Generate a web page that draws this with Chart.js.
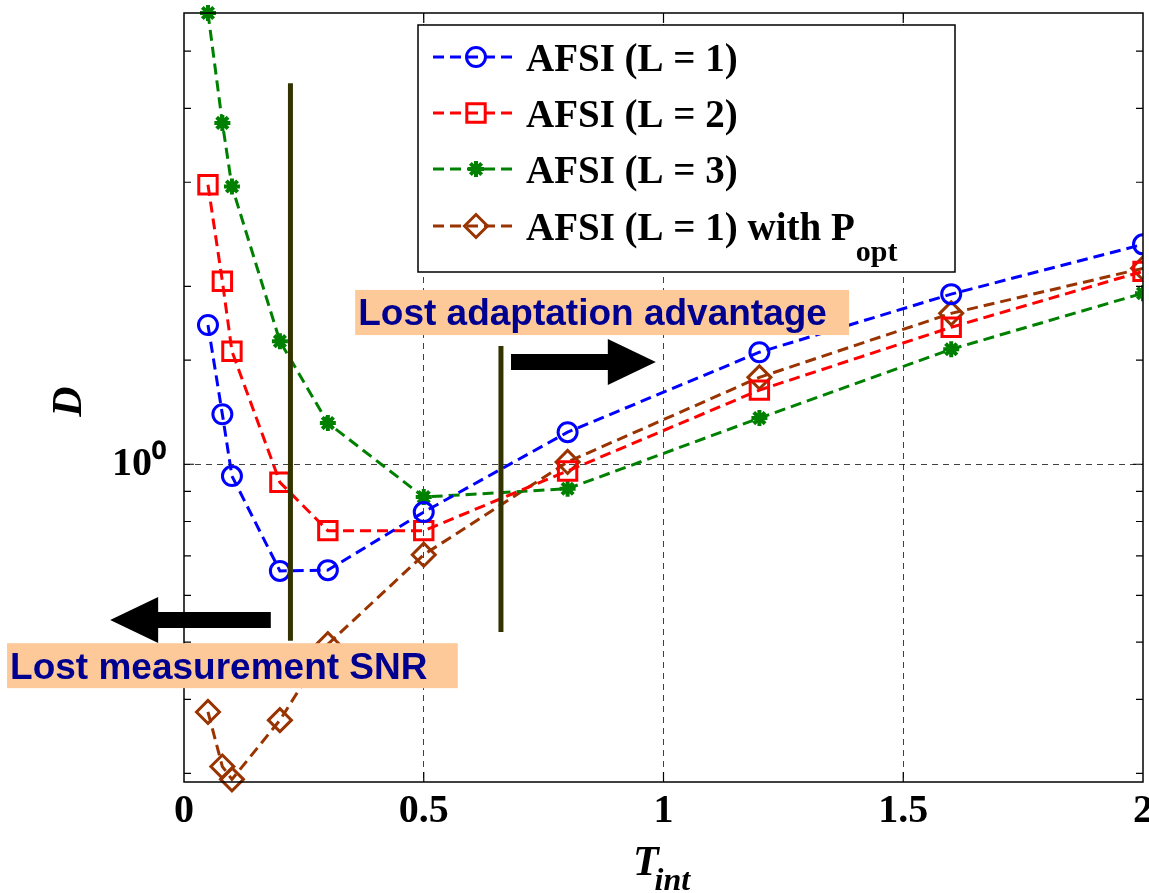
<!DOCTYPE html>
<html>
<head>
<meta charset="utf-8">
<script src="https://cdn.jsdelivr.net/npm/chart.js@4.4.1/dist/chart.umd.min.js"></script>
<style>
  html, body { margin: 0; padding: 0; background: #fff; }
  #wrap { width: 1149px; height: 893px; }
</style>
</head>
<body>
<div id="wrap"><canvas id="chart" width="1149" height="893"></canvas></div>
<script>
// integration time on the x axis
const tInt = [0.05, 0.08, 0.1, 0.2, 0.3, 0.5, 0.8, 1.2, 1.6, 2.0];

// D values
const dL1 = [1.72, 1.215, 0.955, 0.66, 0.662, 0.83, 1.133, 1.547, 1.94, 2.355];
const dL2 = [2.97, 2.04, 1.553, 0.932, 0.772, 0.772, 0.974, 1.335, 1.705, 2.12];
const dL3 = [5.8, 3.78, 2.95, 1.615, 1.174, 0.88, 0.909, 1.197, 1.565, 1.947];
const dL1Popt = [0.381, 0.308, 0.293, 0.369, 0.496, 0.703, 1.009, 1.403, 1.80, 2.145];

const seriesNames = ['AFSI (L = 1)', 'AFSI (L = 2)', 'AFSI (L = 3)', 'AFSI (L = 1) with P_opt'];
const xTicks = [0, 0.5, 1, 1.5, 2];

// vertical separators: x, y bottom, y top (data units)
const sepA = [0.222, 0.503, 4.41];
const sepB = [0.661, 0.52, 1.585];

const SERIF = '"Liberation Serif", "Times New Roman", serif';
const SANS = '"Liberation Sans", Arial, sans-serif';

function pts(ys) { return ys.map((y, i) => ({ x: tInt[i], y: y })); }

function series(label, ys, color, style, radius, bw) {
    return {
        label: label, data: pts(ys), borderColor: color, backgroundColor: 'transparent',
        borderWidth: 3, borderDash: [11, 6], pointStyle: style, pointRadius: radius,
        pointBorderWidth: bw, pointBorderColor: color, pointBackgroundColor: 'transparent',
        tension: 0, order: 1, clip: { left: 14, top: 14, right: 0, bottom: 14 }
    };
}

function separator(s) {
    return {
        label: '', data: [{ x: s[0], y: s[1] }, { x: s[0], y: s[2] }], borderColor: '#333300',
        borderWidth: 5, pointRadius: 0, order: 0, isSeparator: true, clip: false
    };
}

const styles = [
    ['#0000FF', 'circle', 9.5, 3],
    ['#FF0000', 'rect', 13, 3],
    ['#008000', 'star', 8, 4],
    ['#993300', 'rectRot', 11.5, 3]
];
const allD = [dL1, dL2, dL3, dL1Popt];

// annotations (data units)
const arrows = [
    { from: 0.682, to: 0.984, y: 1.489 },
    { from: 0.181, to: -0.154, y: 0.545 }
];
const notes = [
    { text: 'Lost adaptation advantage', x0: 0.357, x1: 1.387, yTop: 1.972, yBot: 1.654 },
    { text: 'Lost measurement SNR', x0: -0.369, x1: 0.571, yTop: 0.498, yBot: 0.418 }
];

// draws text with a "_sub" part lowered and smaller
function subText(ctx, str, x, y, font, subFont, drop, gap) {
    const parts = str.split('_');
    ctx.font = font;
    ctx.fillText(parts[0], x, y);
    let w = ctx.measureText(parts[0]).width;
    if (parts[1]) {
        ctx.font = subFont;
        ctx.fillText(parts[1], x + w + gap, y + drop);
        w += ctx.measureText(parts[1]).width + gap;
    }
    return w;
}

const decor = {
    id: 'decor',
    afterDatasetsDraw(chart) {
        const ctx = chart.ctx;
        const xs = chart.scales.x, ys = chart.scales.y;
        const { left, right, top, bottom } = chart.chartArea;
        ctx.save();
        ctx.setLineDash([]);

        // frame + inward ticks
        ctx.strokeStyle = '#000';
        ctx.lineWidth = 1.5;
        ctx.strokeRect(left, top, right - left, bottom - top);
        ctx.lineWidth = 1.2;
        ys.ticks.forEach(t => {
            if (t.value <= ys.min || t.value >= ys.max) return;
            const py = ys.getPixelForValue(t.value);
            const len = t.value === 1 ? 10 : 7;
            ctx.beginPath();
            ctx.moveTo(left, py); ctx.lineTo(left + len, py);
            ctx.moveTo(right, py); ctx.lineTo(right - len, py);
            ctx.stroke();
        });
        xs.ticks.forEach(t => {
            if (t.value <= xs.min || t.value >= xs.max) return;
            const px = xs.getPixelForValue(t.value);
            ctx.beginPath();
            ctx.moveTo(px, top); ctx.lineTo(px, top + 10);
            ctx.moveTo(px, bottom); ctx.lineTo(px, bottom - 10);
            ctx.stroke();
        });

        // arrows
        ctx.fillStyle = '#000';
        arrows.forEach(a => {
            const x0 = xs.getPixelForValue(a.from), x1 = xs.getPixelForValue(a.to);
            const py = ys.getPixelForValue(a.y);
            const dir = x1 > x0 ? 1 : -1;
            const hb = x1 - dir * 48;
            ctx.beginPath();
            ctx.moveTo(x0, py - 8); ctx.lineTo(hb, py - 8); ctx.lineTo(hb, py - 23);
            ctx.lineTo(x1, py); ctx.lineTo(hb, py + 23); ctx.lineTo(hb, py + 8);
            ctx.lineTo(x0, py + 8); ctx.closePath();
            ctx.fill();
        });

        // text boxes
        notes.forEach(n => {
            const x0 = xs.getPixelForValue(n.x0), x1 = xs.getPixelForValue(n.x1);
            const y0 = ys.getPixelForValue(n.yTop), y1 = ys.getPixelForValue(n.yBot);
            ctx.fillStyle = '#FDC998';
            ctx.fillRect(x0, y0, x1 - x0, y1 - y0);
            ctx.fillStyle = '#000090';
            ctx.font = 'bold 37px ' + SANS;
            ctx.textAlign = 'left';
            ctx.textBaseline = 'alphabetic';
            ctx.fillText(n.text, x0 + 3, (y0 + y1) / 2 + 13);
        });
        ctx.restore();
    },
    afterDraw(chart) {
        const ctx = chart.ctx;
        const { left, right, top, bottom } = chart.chartArea;
        ctx.save();
        ctx.fillStyle = '#000';
        ctx.textBaseline = 'alphabetic';

        // axis titles
        ctx.font = 'italic bold 42px ' + SERIF;
        ctx.save();
        ctx.translate(70, (top + bottom) / 2 + 4);
        ctx.rotate(-Math.PI / 2);
        ctx.textAlign = 'center';
        ctx.textBaseline = 'middle';
        ctx.fillText('D', 0, 0);
        ctx.restore();
        ctx.textAlign = 'left';
        ctx.font = 'italic bold 42px ' + SERIF;
        const wT = ctx.measureText('T').width;
        ctx.font = 'italic bold 32px ' + SERIF;
        const wSub = ctx.measureText('int').width;
        const cx = (left + right) / 2 - 2;
        subText(ctx, 'T_int', cx - (wT + wSub - 4) / 2, 875,
            'italic bold 42px ' + SERIF, 'italic bold 32px ' + SERIF, 15, -4);

        // legend
        const lg = { x0: 418, y0: 25, x1: 955, y1: 272 };
        ctx.fillStyle = '#fff';
        ctx.fillRect(lg.x0, lg.y0, lg.x1 - lg.x0, lg.y1 - lg.y0);
        ctx.strokeStyle = '#000';
        ctx.lineWidth = 1.5;
        ctx.strokeRect(lg.x0, lg.y0, lg.x1 - lg.x0, lg.y1 - lg.y0);
        const rows = [71, 127, 183, 240];
        chart.data.datasets.filter(d => !d.isSeparator).forEach((d, i) => {
            const base = rows[i], mid = base - 14;
            ctx.strokeStyle = d.borderColor;
            ctx.lineWidth = 3;
            ctx.setLineDash([11, 6]);
            ctx.beginPath();
            ctx.moveTo(433, mid); ctx.lineTo(513, mid);
            ctx.stroke();
            ctx.setLineDash([]);
            ctx.fillStyle = 'rgba(0,0,0,0)';
            ctx.lineWidth = d.pointBorderWidth;
            Chart.helpers.drawPoint(ctx, {
                pointStyle: d.pointStyle, radius: d.pointRadius, rotation: 0, borderWidth: d.pointBorderWidth
            }, 476, mid);
            ctx.fillStyle = '#000';
            subText(ctx, d.label, 526, base, 'bold 39px ' + SERIF, 'bold 30px ' + SERIF, 21, 1);
        });
        ctx.restore();
    }
};

const datasets = allD.map((d, i) => series(seriesNames[i], d, styles[i][0], styles[i][1], styles[i][2], styles[i][3]));
datasets.push(separator(sepA), separator(sepB));

new Chart(document.getElementById('chart'), {
    type: 'line',
    data: { datasets: datasets },
    options: {
        responsive: false,
        animation: false,
        layout: { autoPadding: false, padding: { left: 0, top: 13, right: 6, bottom: 0 } },
        plugins: { legend: { display: false }, tooltip: { enabled: false } },
        scales: {
            x: {
                type: 'linear', min: 0, max: 2,
                afterBuildTicks: s => { s.ticks = xTicks.map(v => ({ value: v })); },
                afterFit: s => { s.height = 111; s.paddingLeft = 0; s.paddingRight = 0; },
                ticks: {
                    padding: 6, color: '#000', maxRotation: 0,
                    font: { family: SERIF, size: 40, weight: 'bold' },
                    callback: v => String(v)
                },
                grid: {
                    drawTicks: false, lineWidth: 1,
                    color: c => (c.tick && c.tick.value > 0 && c.tick.value < 2) ? 'rgba(0,0,0,0.75)' : 'rgba(0,0,0,0)'
                },
                border: { display: false, dash: [6, 5] }
            },
            y: {
                type: 'logarithmic', min: 0.29, max: 5.8,
                afterFit: s => { s.width = 184; s.paddingTop = 0; s.paddingBottom = 0; },
                ticks: {
                    autoSkip: false, padding: 18, color: '#000',
                    font: { family: SERIF, size: 40, weight: 'bold' },
                    callback: v => (v === 1 ? '10\u2070' : '')
                },
                grid: {
                    drawTicks: false, lineWidth: 1,
                    color: c => (c.tick && c.tick.value === 1) ? 'rgba(0,0,0,0.75)' : 'rgba(0,0,0,0)'
                },
                border: { display: false, dash: [6, 5] }
            }
        }
    },
    plugins: [decor]
});
</script>
</body>
</html>
